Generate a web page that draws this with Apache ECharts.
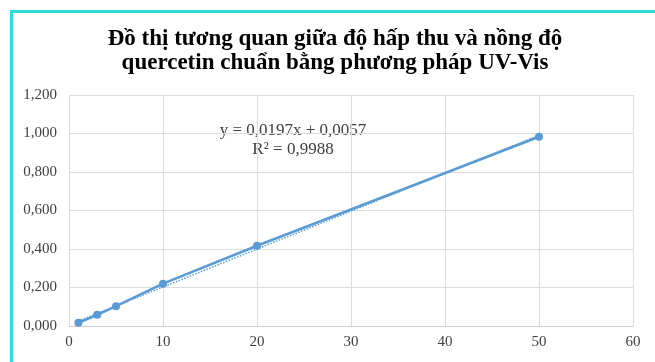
<!DOCTYPE html>
<html>
<head>
<meta charset="utf-8">
<script src="https://cdn.jsdelivr.net/npm/echarts@6/dist/echarts.min.js"></script>
<style>
  html, body { margin: 0; padding: 0; background: #fff; }
  #frame {
    position: absolute;
    left: 10px; top: 10px;
    width: 660px; height: 350px;
    border-left: 3px solid #2fd9dc;
    border-top: 3px solid #2fd9dc;
    border-bottom: 1px solid #d9d9d9;
  }
  #chart { position: absolute; left: 0; top: 0; width: 655px; height: 362px; }
</style>
</head>
<body>
<div id="frame"></div>
<div id="chart"></div>
<script>
// nồng độ quercetin (x) và độ hấp thu (y)
const concentration = [1, 3, 5, 10, 20, 50]
const absorbance = [0.017, 0.058, 0.103, 0.22, 0.417, 0.983]
// đường xu hướng tuyến tính
const slope = 0.0197
const intercept = 0.0057
const equationText = ['y = 0,0197x + 0,0057', 'R² = 0,9988']
const titleLines = ['Đồ thị tương quan giữa độ hấp thu và nồng độ', 'quercetin chuẩn bằng phương pháp UV-Vis']

const xFirst = concentration[0]
const xLast = concentration[concentration.length - 1]
const trend = [xFirst, xLast].map(x => [x, slope * x + intercept])

const chart = echarts.init(document.getElementById('chart'))
chart.setOption({
  animation: false,
  title: {
    text: titleLines.join('\n'),
    left: 330,
    top: 22,
    textAlign: 'center',
    textStyle: {
      fontFamily: 'Liberation Serif',
      fontWeight: 'bold',
      fontSize: 23,
      lineHeight: 24,
      color: '#000'
    }
  },
  grid: { left: 69, right: 22, top: 95, bottom: 36 },
  xAxis: {
    type: 'value',
    min: 0,
    max: 60,
    interval: 10,
    axisLine: { show: true, lineStyle: { color: '#d0d0d0' } },
    axisTick: { show: false },
    splitLine: { show: true, lineStyle: { color: '#dcdcdc' } },
    axisLabel: { fontFamily: 'Liberation Serif', fontSize: 15, color: '#404040', margin: 9 }
  },
  yAxis: {
    type: 'value',
    min: 0,
    max: 1.2,
    interval: 0.2,
    axisLine: { show: false },
    axisTick: { show: false },
    splitLine: { show: true, lineStyle: { color: '#dcdcdc' } },
    axisLabel: {
      fontFamily: 'Liberation Serif',
      fontSize: 15,
      color: '#404040',
      margin: 12,
      formatter: v => v.toFixed(3).replace('.', ',')
    }
  },
  graphic: [{
    type: 'text',
    x: 293,
    y: 121,
    style: {
      text: equationText.join('\n'),
      align: 'center',
      fontFamily: 'Liberation Serif',
      fontSize: 17,
      lineHeight: 19,
      fill: '#404040'
    }
  }],
  series: [
    {
      type: 'line',
      data: concentration.map((x, i) => [x, absorbance[i]]),
      symbol: 'circle',
      symbolSize: 8,
      lineStyle: { color: '#5b9bd5', width: 2.5 },
      itemStyle: { color: '#5b9bd5' },
      z: 3
    },
    {
      type: 'line',
      data: trend,
      symbol: 'none',
      lineStyle: { color: '#5b9bd5', width: 1.5, type: 'dotted' },
      z: 2
    }
  ]
})
</script>
</body>
</html>
